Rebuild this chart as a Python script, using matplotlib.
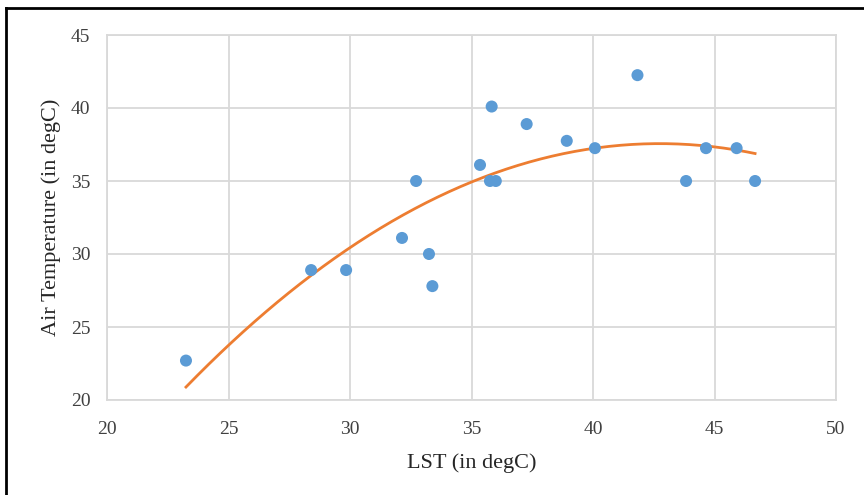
import numpy as np
import matplotlib.pyplot as plt
from matplotlib.lines import Line2D

# LST vs air temperature (degC)
lst = [23.25, 28.4, 29.84, 32.14, 32.72, 33.25, 33.39, 35.35, 35.83, 35.76, 36.0,
       37.27, 38.92, 40.08, 41.83, 43.83, 44.65, 45.91, 46.67]
air = [22.7, 28.9, 28.9, 31.1, 35.0, 30.0, 27.8, 36.1, 40.1, 35.0, 35.0,
       38.9, 37.75, 37.25, 42.25, 35.0, 37.25, 37.25, 35.0]

xticks = [20, 25, 30, 35, 40, 45, 50]
yticks = [20, 25, 30, 35, 40, 45]

plt.rcParams['font.family'] = ['Liberation Serif', 'DejaVu Serif']

fig = plt.figure(figsize=(8.64, 4.95), dpi=100)
ax = fig.add_axes([107 / 864, 1 - 400 / 495, (836 - 107) / 864, (400 - 35) / 495])

# polynomial (order 2) trendline, like Excel
coef = np.polyfit(lst, air, 2)
xs = np.linspace(min(lst), max(lst), 200)
ax.plot(xs, np.polyval(coef, xs), color='#ED7D31', lw=2, zorder=2)

ax.scatter(lst, air, s=75, color='#5B9BD5', edgecolors='none', zorder=3)

ax.set_xlim(20, 50)
ax.set_ylim(20, 45)
ax.set_xticks(xticks)
ax.set_yticks(yticks)
ax.grid(True, color='#D9D9D9', lw=1.3)
ax.set_axisbelow(True)
for s in ax.spines.values():
    s.set_color('#D9D9D9')
    s.set_linewidth(1.3)
ax.tick_params(length=0, labelsize=14, colors='#404040')
ax.tick_params(axis='y', pad=12)
ax.tick_params(axis='x', pad=15)

ax.set_xlabel('LST (in degC)', fontsize=16, color='#262626', labelpad=11)
ax.set_ylabel('Air Temperature (in degC)', fontsize=16, color='#262626', labelpad=7)

# outer frame (top and left edges visible)
fig.add_artist(Line2D([6 / 864, 1], [1 - 8 / 495, 1 - 8 / 495], color='black', lw=2))
fig.add_artist(Line2D([6 / 864, 6 / 864], [0, 1 - 8 / 495], color='black', lw=2))

plt.savefig('out.png')
